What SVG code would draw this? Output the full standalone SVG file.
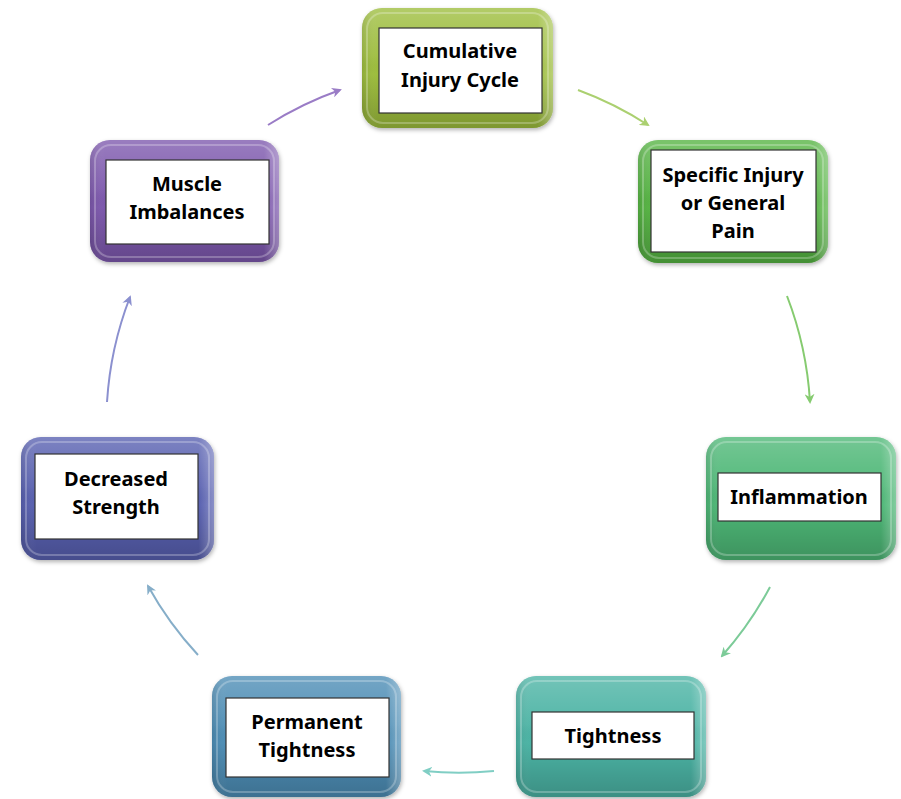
<svg xmlns="http://www.w3.org/2000/svg" width="901" height="799" viewBox="0 0 901 799">
<defs>
<linearGradient id="gloss" x1="0" y1="0" x2="0" y2="1">
<stop offset="0" stop-color="#fff" stop-opacity="0.22"/>
<stop offset="0.4" stop-color="#fff" stop-opacity="0.05"/>
<stop offset="0.55" stop-color="#000" stop-opacity="0"/>
<stop offset="1" stop-color="#000" stop-opacity="0.2"/>
</linearGradient>
<linearGradient id="side" x1="0" y1="0" x2="1" y2="0">
<stop offset="0" stop-color="#000" stop-opacity="0.1"/>
<stop offset="0.08" stop-color="#fff" stop-opacity="0"/>
<stop offset="0.92" stop-color="#fff" stop-opacity="0"/>
<stop offset="1" stop-color="#fff" stop-opacity="0.3"/>
</linearGradient>
<filter id="sh" x="-10%" y="-10%" width="125%" height="130%">
<feDropShadow dx="1" dy="2" stdDeviation="2" flood-color="#000" flood-opacity="0.3"/>
</filter>
<marker id="ah" viewBox="0 0 10 10" refX="8" refY="5" markerWidth="5" markerHeight="5" orient="auto" markerUnits="strokeWidth">
<path d="M0,0 L10,5 L0,10 L3,5 Z" fill="context-stroke"/>
</marker>
</defs>
<style>
.outer{filter:url(#sh)}
.gl{fill:url(#gloss)}
.sd{fill:url(#side)}
.hl{fill:none;stroke:#fff;stroke-opacity:0.25;stroke-width:2}
.box{fill:#fff;stroke:#333;stroke-width:1.2}
.t{font-family:"Noto Sans","Open Sans",sans-serif;font-weight:700;font-size:20px;fill:#000;text-anchor:middle;dominant-baseline:central}
.c{fill:none;stroke-width:2;marker-end:url(#ah)}
</style>
<g id="connectors">
<path class="c" stroke="#9a7cc6" d="M268,125 A352,352 0 0 1 340,90"/>
<path class="c" stroke="#abd070" d="M578,90 A352,352 0 0 1 648,125"/>
<path class="c" stroke="#86cb70" d="M787,296 A352,352 0 0 1 810,402"/>
<path class="c" stroke="#7ccb98" d="M770,587 A352,352 0 0 1 722,656"/>
<path class="c" stroke="#80cec4" d="M494,771 A352,352 0 0 1 424,771"/>
<path class="c" stroke="#86aec9" d="M198,655 A352,352 0 0 1 148,586"/>
<path class="c" stroke="#8b90cf" d="M107,402 A352,352 0 0 1 130,297"/>
</g>
<g id="n1">
<rect class="outer" x="362" y="8" width="191" height="120" rx="20" fill="#9dbd3e"/>
<rect class="gl" x="362" y="8" width="191" height="120" rx="20"/>
<rect class="sd" x="362" y="8" width="191" height="120" rx="20"/>
<rect class="hl" x="367" y="13" width="181" height="110" rx="16"/>
<rect class="box" x="379" y="28" width="163" height="85"/>
<text class="t" x="460" y="50">Cumulative</text>
<text class="t" x="460" y="79">Injury Cycle</text>
</g>
<g id="n2">
<rect class="outer" x="638" y="140" width="190" height="123" rx="20" fill="#55b342"/>
<rect class="gl" x="638" y="140" width="190" height="123" rx="20"/>
<rect class="sd" x="638" y="140" width="190" height="123" rx="20"/>
<rect class="hl" x="643" y="145" width="180" height="113" rx="16"/>
<rect class="box" x="651" y="150" width="165" height="102"/>
<text class="t" x="733" y="174">Specific Injury</text>
<text class="t" x="733" y="202">or General</text>
<text class="t" x="733" y="230">Pain</text>
</g>
<g id="n3">
<rect class="outer" x="706" y="437" width="190" height="123" rx="20" fill="#4db776"/>
<rect class="gl" x="706" y="437" width="190" height="123" rx="20"/>
<rect class="sd" x="706" y="437" width="190" height="123" rx="20"/>
<rect class="hl" x="711" y="442" width="180" height="113" rx="16"/>
<rect class="box" x="718" y="473" width="163" height="48"/>
<text class="t" x="799" y="496">Inflammation</text>
</g>
<g id="n4">
<rect class="outer" x="516" y="676" width="190" height="121" rx="20" fill="#4bb3a4"/>
<rect class="gl" x="516" y="676" width="190" height="121" rx="20"/>
<rect class="sd" x="516" y="676" width="190" height="121" rx="20"/>
<rect class="hl" x="521" y="681" width="180" height="111" rx="16"/>
<rect class="box" x="532" y="712" width="162" height="47"/>
<text class="t" x="613" y="735">Tightness</text>
</g>
<g id="n5">
<rect class="outer" x="212" y="676" width="189" height="121" rx="20" fill="#4e8db5"/>
<rect class="gl" x="212" y="676" width="189" height="121" rx="20"/>
<rect class="sd" x="212" y="676" width="189" height="121" rx="20"/>
<rect class="hl" x="217" y="681" width="179" height="111" rx="16"/>
<rect class="box" x="226" y="698" width="163" height="79"/>
<text class="t" x="307" y="721">Permanent</text>
<text class="t" x="307" y="749">Tightness</text>
</g>
<g id="n6">
<rect class="outer" x="21" y="437" width="193" height="123" rx="20" fill="#5860b0"/>
<rect class="gl" x="21" y="437" width="193" height="123" rx="20"/>
<rect class="sd" x="21" y="437" width="193" height="123" rx="20"/>
<rect class="hl" x="26" y="442" width="183" height="113" rx="16"/>
<rect class="box" x="35" y="454" width="163" height="85"/>
<text class="t" x="116" y="478">Decreased</text>
<text class="t" x="116" y="506">Strength</text>
</g>
<g id="n7">
<rect class="outer" x="90" y="140" width="189" height="122" rx="20" fill="#7d58ad"/>
<rect class="gl" x="90" y="140" width="189" height="122" rx="20"/>
<rect class="sd" x="90" y="140" width="189" height="122" rx="20"/>
<rect class="hl" x="95" y="145" width="179" height="112" rx="16"/>
<rect class="box" x="106" y="160" width="163" height="84"/>
<text class="t" x="187" y="183">Muscle</text>
<text class="t" x="187" y="211">Imbalances</text>
</g>
</svg>
